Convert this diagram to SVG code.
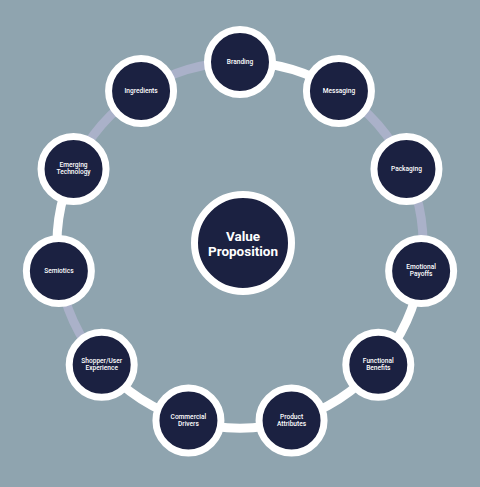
<svg xmlns="http://www.w3.org/2000/svg" width="480" height="487" viewBox="0 0 480 487">
<style>
.bg{fill:#8fa4af}
.n{fill:#1b2141;stroke:#ffffff;stroke-width:7}
.t{fill:#ffffff;font-family:Roboto,"Liberation Sans",sans-serif;font-size:6.6px;font-weight:500;text-anchor:middle}
.vp{fill:#ffffff;font-family:Roboto,"Liberation Sans",sans-serif;font-size:13.5px;font-weight:700;text-anchor:middle}
.w{fill:none;stroke:#ffffff;stroke-width:9}
.l{fill:none;stroke:#aab1c9;stroke-width:9}
</style>
<rect class="bg" x="0" y="0" width="480" height="487"/>
<g id="connectors">
<path class="w" d="M240,62 A183,183 0 0 1 338.93,91.04"/>
<path class="l" d="M338.93,91.04 A183,183 0 0 1 406.46,168.98"/>
<path class="l" d="M406.46,168.98 A183,183 0 0 1 421.14,271.04"/>
<path class="w" d="M421.14,271.04 A183,183 0 0 1 378.3,364.84"/>
<path class="w" d="M378.3,364.84 A183,183 0 0 1 291.56,420.59"/>
<path class="w" d="M291.56,420.59 A183,183 0 0 1 188.44,420.59"/>
<path class="w" d="M188.44,420.59 A183,183 0 0 1 101.7,364.84"/>
<path class="l" d="M101.7,364.84 A183,183 0 0 1 58.86,271.04"/>
<path class="w" d="M58.86,271.04 A183,183 0 0 1 73.54,168.98"/>
<path class="l" d="M73.54,168.98 A183,183 0 0 1 141.07,91.04"/>
<path class="l" d="M141.07,91.04 A183,183 0 0 1 240,62"/>
</g>
<g id="value-proposition">
<circle class="n" cx="243" cy="243" r="48.5"/>
<text class="vp" x="243" y="241">Value</text>
<text class="vp" x="243" y="256">Proposition</text>
</g>
<g id="branding"><circle class="n" cx="240" cy="62" r="32.5"/><text class="t" x="240" y="64">Branding</text></g>
<g id="messaging"><circle class="n" cx="338.93" cy="91.04" r="32.5"/><text class="t" x="338.93" y="93">Messaging</text></g>
<g id="packaging"><circle class="n" cx="406.46" cy="168.98" r="32.5"/><text class="t" x="406.46" y="171">Packaging</text></g>
<g id="emotional-payoffs"><circle class="n" cx="421.14" cy="271.04" r="32.5"/><text class="t" x="421.14" y="269">Emotional</text><text class="t" x="421.14" y="276">Payoffs</text></g>
<g id="functional-benefits"><circle class="n" cx="378.3" cy="364.84" r="32.5"/><text class="t" x="378.3" y="363">Functional</text><text class="t" x="378.3" y="370">Benefits</text></g>
<g id="product-attributes"><circle class="n" cx="291.56" cy="420.59" r="32.5"/><text class="t" x="291.56" y="418.5">Product</text><text class="t" x="291.56" y="425.5">Attributes</text></g>
<g id="commercial-drivers"><circle class="n" cx="188.44" cy="420.59" r="32.5"/><text class="t" x="188.44" y="418.5">Commercial</text><text class="t" x="188.44" y="425.5">Drivers</text></g>
<g id="shopper-user-experience"><circle class="n" cx="101.7" cy="364.84" r="32.5"/><text class="t" x="101.7" y="363">Shopper/User</text><text class="t" x="101.7" y="370">Experience</text></g>
<g id="semiotics"><circle class="n" cx="58.86" cy="271.04" r="32.5"/><text class="t" x="58.86" y="273">Semiotics</text></g>
<g id="emerging-technology"><circle class="n" cx="73.54" cy="168.98" r="32.5"/><text class="t" x="73.54" y="167">Emerging</text><text class="t" x="73.54" y="174">Technology</text></g>
<g id="ingredients"><circle class="n" cx="141.07" cy="91.04" r="32.5"/><text class="t" x="141.07" y="93">Ingredients</text></g>
</svg>
